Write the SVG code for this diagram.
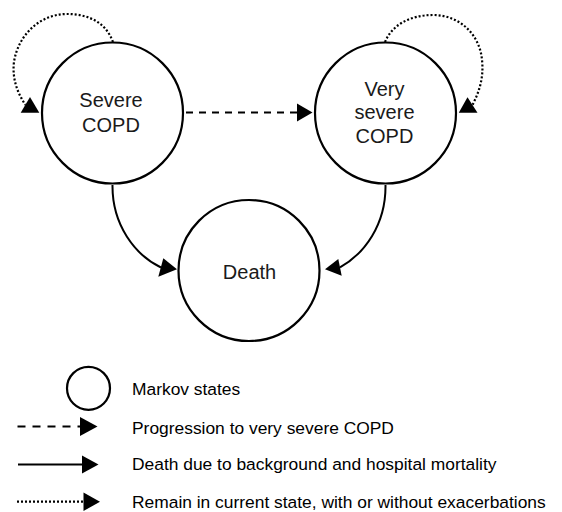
<svg xmlns="http://www.w3.org/2000/svg" width="562" height="512" viewBox="0 0 562 512">
  <style>
    .state { fill: #ffffff; stroke: #000000; stroke-width: 2.2; }
    .label { font-family: "Liberation Sans", Arial, sans-serif; font-size: 20px; fill: #1a1a1a; text-anchor: middle; }
    .legend { font-family: "Liberation Sans", Arial, sans-serif; font-size: 17.4px; fill: #000000; }
    .edge { fill: none; stroke: #000000; stroke-width: 2; }
    .dashed { stroke-dasharray: 7 6; }
    .dotted { stroke-dasharray: 2 2; stroke-width: 2.2; }
    .head { fill: #000000; stroke: none; }
  </style>
  <rect width="562" height="512" fill="#ffffff"/>

  <g id="connectors">
    <line class="edge dashed" x1="186" y1="112.5" x2="297" y2="112.5"/>
    <polygon class="head" points="297,103.5 312.5,112.5 297,121.5"/>
    <path class="edge" d="M112.5,185 C112,225 135,255 161,267.5"/>
    <polygon class="head" points="163.3,258.3 177,269.3 158.3,276.7"/>
    <path class="edge" d="M385.5,185 C386,225 364,254 340,267.3"/>
    <polygon class="head" points="338.3,259 325,269.3 341.7,275.7"/>
    <path class="edge dotted" d="M113,42 C105,20 85,14 67,14 C40,14 18,35 14,62 C12,78 17,92 25.3,104.8"/>
    <polygon class="head" points="30,97 20.7,112.7 39.3,112.7"/>
    <path class="edge dotted" d="M385,42 C392,25 410,15 433,15 C460,15 480,35 482,60 C484,78 479,92 472.5,105"/>
    <polygon class="head" points="467.5,97.3 458.8,112.7 477.5,112.7"/>
  </g>

  <g id="node-severe">
    <circle class="state" cx="112.5" cy="113" r="70.5"/>
    <text class="label" x="111" y="107.3">Severe</text>
    <text class="label" x="111" y="131.7">COPD</text>
  </g>

  <g id="node-very-severe">
    <circle class="state" cx="385.5" cy="113" r="70.5"/>
    <text class="label" x="384.5" y="95.5">Very</text>
    <text class="label" x="384.5" y="119">severe</text>
    <text class="label" x="384.5" y="142.5">COPD</text>
  </g>

  <g id="node-death">
    <circle class="state" cx="249" cy="270.5" r="70.5"/>
    <text class="label" x="249.5" y="278.5">Death</text>
  </g>

  <g id="legend">
    <circle class="state" cx="88.5" cy="388.3" r="21.5"/>
    <text class="legend" x="132" y="394.5">Markov states</text>

    <line class="edge" x1="17.5" y1="426.5" x2="80" y2="426.5" stroke-dasharray="8 7"/>
    <polygon class="head" points="80,417 97.5,426.5 80,436"/>
    <text class="legend" x="132" y="433.5">Progression to very severe COPD</text>

    <line class="edge" x1="18" y1="464.5" x2="82" y2="464.5"/>
    <polygon class="head" points="82,455.5 98.5,464.5 82,473.5"/>
    <text class="legend" x="132" y="470.3">Death due to background and hospital mortality</text>

    <line class="edge dotted" x1="17" y1="501.7" x2="83.5" y2="501.7"/>
    <polygon class="head" points="83.5,492.5 100,501.7 83.5,511"/>
    <text class="legend" x="132" y="507.5">Remain in current state, with or without exacerbations</text>
  </g>
</svg>
